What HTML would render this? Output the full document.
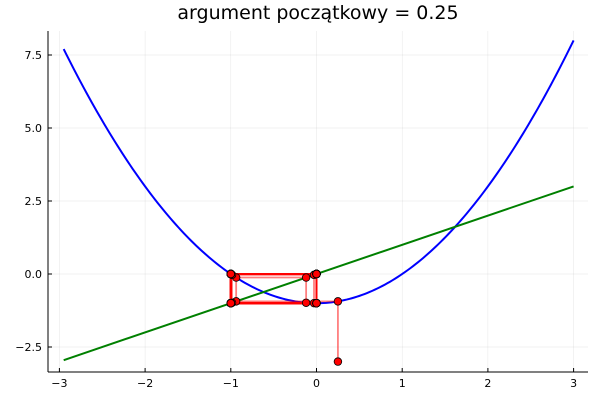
<!DOCTYPE html>
<html><head><meta charset="utf-8"><style>
body{margin:0;background:#fff}
svg{display:block;font-family:"DejaVu Sans","Liberation Sans",sans-serif}
</style></head><body>
<svg id="chart" width="600" height="400"></svg>
<script>
const xTicks=[-3,-2,-1,0,1,2,3];
const yTicks=[-2.5,0,2.5,5,7.5];
const yTickLabels=["−2.5","0.0","2.5","5.0","7.5"];
const curveRange=[-2.95,3];
const startArg=[0.25];
const startY=[-3];
const nIter=[60];
const title="argument początkowy = 0.25";

const X0=316.5, XS=85.7, Y0=274, YS=29.2;
const sx=v=>X0+v*XS, sy=v=>Y0-v*YS;
const f=x=>x*x-1;
const NS="http://www.w3.org/2000/svg";
const svg=document.getElementById('chart');
function mk(t,a,p){const e=document.createElementNS(NS,t);for(const k in a)e.setAttribute(k,a[k]);(p||svg).appendChild(e);return e;}
const L=48,R=588,T=31,B=372;
const grid=mk('g',{});


xTicks.forEach(t=>mk('line',{x1:sx(t),x2:sx(t),y1:T,y2:B,stroke:'#000','stroke-opacity':0.1,'stroke-width':0.5},grid));
yTicks.forEach(t=>mk('line',{x1:L,x2:R,y1:sy(t),y2:sy(t),stroke:'#000','stroke-opacity':0.1,'stroke-width':0.5},grid));
const ax=mk('g',{});


mk('line',{x1:L,x2:R,y1:B,y2:B,stroke:'#000','stroke-width':1},ax);
mk('line',{x1:L,x2:L,y1:T,y2:B,stroke:'#000','stroke-width':1},ax);
xTicks.forEach(t=>{mk('line',{x1:sx(t),x2:sx(t),y1:B,y2:B-4,stroke:'#000'},ax);
 const tx=mk('text',{x:sx(t),y:B+15,'font-size':11,'text-anchor':'middle'},ax);tx.textContent=t<0?"−"+(-t):t;
 });
yTicks.forEach((t,i)=>{mk('line',{x1:L,x2:L+4,y1:sy(t),y2:sy(t),stroke:'#000'},ax);
 const tx=mk('text',{x:L-6,y:sy(t)+4,'font-size':11,'text-anchor':'end'},ax);tx.textContent=yTickLabels[i];
 });
const ti=mk('text',{x:318,y:19,'font-size':19,'text-anchor':'middle'});ti.textContent=title;


let d="";for(let i=0;i<=200;i++){const x=curveRange[0]+(curveRange[1]-curveRange[0])*i/200;d+=(i?"L":"M")+sx(x).toFixed(2)+","+sy(f(x)).toFixed(2);}
const par=mk('path',{d:d,fill:'none',stroke:'#0000ff','stroke-width':2});


const ln=mk('line',{x1:sx(curveRange[0]),y1:sy(curveRange[0]),x2:sx(curveRange[1]),y2:sy(curveRange[1]),stroke:'#008000','stroke-width':2});


const pts=[[startArg[0],startY[0]]];let x=startArg[0];
for(let i=0;i<nIter[0];i++){const y=f(x);pts.push([x,y]);pts.push([y,y]);x=y;}
const cw=mk('g',{});


for(let i=1;i<pts.length;i++){
 mk('line',{x1:sx(pts[i-1][0]),y1:sy(pts[i-1][1]),x2:sx(pts[i][0]),y2:sy(pts[i][1]),stroke:'#ff0000','stroke-opacity':0.5,'stroke-width':1.8},cw);
}
pts.forEach(p=>{const c=mk('circle',{cx:sx(p[0]),cy:sy(p[1]),r:3.8,fill:'#ff0000',stroke:'#000','stroke-width':0.8},cw);
 });
</script>
</body></html>
